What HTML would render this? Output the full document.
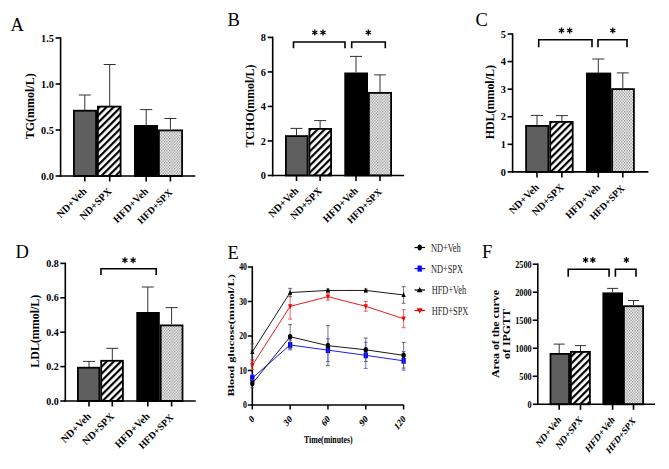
<!DOCTYPE html>
<html><head><meta charset="utf-8"><style>
html,body{margin:0;padding:0;background:#fff;width:669px;height:469px;overflow:hidden}
svg{display:block;font-family:"Liberation Serif", serif}
</style></head><body>
<svg width="669" height="469" viewBox="0 0 669 469">
<defs>
<pattern id="stripe" width="5" height="5" patternUnits="userSpaceOnUse" patternTransform="rotate(45)">
<rect width="5" height="5" fill="#fff"/><rect width="2.2" height="5" fill="#000"/></pattern>
<pattern id="dots" width="2.6" height="3" patternUnits="userSpaceOnUse">
<rect width="2.6" height="3" fill="#f6f6f6"/><rect width="1.15" height="1.4" fill="#8c8c8c"/><rect x="1.3" y="1.5" width="1.15" height="1.4" fill="#8c8c8c"/></pattern>
</defs>
<rect width="669" height="469" fill="#fff"/>
<line x1="60.60" y1="37.25" x2="60.60" y2="176.75" stroke="#000" stroke-width="1.6" stroke-linecap="butt"/>
<line x1="55.60" y1="176.00" x2="60.60" y2="176.00" stroke="#000" stroke-width="1.6" stroke-linecap="butt"/>
<text transform="translate(53.90 179.60)" font-size="10.3" text-anchor="end" font-weight="bold" fill="#000" >0.0</text>
<line x1="55.60" y1="130.00" x2="60.60" y2="130.00" stroke="#000" stroke-width="1.6" stroke-linecap="butt"/>
<text transform="translate(53.90 133.60)" font-size="10.3" text-anchor="end" font-weight="bold" fill="#000" >0.5</text>
<line x1="55.60" y1="84.00" x2="60.60" y2="84.00" stroke="#000" stroke-width="1.6" stroke-linecap="butt"/>
<text transform="translate(53.90 87.60)" font-size="10.3" text-anchor="end" font-weight="bold" fill="#000" >1.0</text>
<line x1="55.60" y1="38.00" x2="60.60" y2="38.00" stroke="#000" stroke-width="1.6" stroke-linecap="butt"/>
<text transform="translate(53.90 41.60)" font-size="10.3" text-anchor="end" font-weight="bold" fill="#000" >1.5</text>
<rect x="73.90" y="110.70" width="22.20" height="65.30" fill="#5f5f5f" stroke="#000" stroke-width="1.8"/>
<rect x="97.90" y="106.60" width="22.70" height="69.40" fill="url(#stripe)" stroke="#000" stroke-width="1.8"/>
<rect x="134.90" y="125.90" width="22.20" height="50.10" fill="#000" stroke="#000" stroke-width="1.8"/>
<rect x="158.90" y="130.40" width="23.20" height="45.60" fill="url(#dots)" stroke="#000" stroke-width="1.8"/>
<line x1="59.80" y1="176.00" x2="195.40" y2="176.00" stroke="#000" stroke-width="1.6" stroke-linecap="butt"/>
<line x1="84.80" y1="110.00" x2="84.80" y2="95.00" stroke="#333" stroke-width="1.0" stroke-linecap="butt"/>
<line x1="78.80" y1="95.00" x2="90.80" y2="95.00" stroke="#333" stroke-width="1.0" stroke-linecap="butt"/>
<line x1="109.70" y1="106.00" x2="109.70" y2="64.50" stroke="#333" stroke-width="1.0" stroke-linecap="butt"/>
<line x1="103.70" y1="64.50" x2="115.70" y2="64.50" stroke="#333" stroke-width="1.0" stroke-linecap="butt"/>
<line x1="146.20" y1="125.00" x2="146.20" y2="109.60" stroke="#333" stroke-width="1.0" stroke-linecap="butt"/>
<line x1="140.20" y1="109.60" x2="152.20" y2="109.60" stroke="#333" stroke-width="1.0" stroke-linecap="butt"/>
<line x1="170.40" y1="129.50" x2="170.40" y2="118.50" stroke="#333" stroke-width="1.0" stroke-linecap="butt"/>
<line x1="164.40" y1="118.50" x2="176.40" y2="118.50" stroke="#333" stroke-width="1.0" stroke-linecap="butt"/>
<line x1="84.80" y1="176.00" x2="84.80" y2="181.50" stroke="#000" stroke-width="1.6" stroke-linecap="butt"/>
<line x1="109.70" y1="176.00" x2="109.70" y2="181.50" stroke="#000" stroke-width="1.6" stroke-linecap="butt"/>
<line x1="146.20" y1="176.00" x2="146.20" y2="181.50" stroke="#000" stroke-width="1.6" stroke-linecap="butt"/>
<line x1="170.40" y1="176.00" x2="170.40" y2="181.50" stroke="#000" stroke-width="1.6" stroke-linecap="butt"/>
<text transform="translate(87.30 192.00) rotate(-45)" font-size="10.3" text-anchor="end" font-weight="bold" fill="#000" >ND+Veh</text>
<text transform="translate(112.20 192.00) rotate(-45)" font-size="10.3" text-anchor="end" font-weight="bold" fill="#000" >ND+SPX</text>
<text transform="translate(148.70 192.00) rotate(-45)" font-size="10.3" text-anchor="end" font-weight="bold" fill="#000" >HFD+Veh</text>
<text transform="translate(172.90 193.00) rotate(-45)" font-size="9.79" text-anchor="end" font-weight="bold" fill="#000" >HFD+SPX</text>
<text transform="translate(34.10 106.30) rotate(-90)" font-size="12.0" text-anchor="middle" font-weight="bold" fill="#000" >TG(mmol/L)</text>
<text transform="translate(10.50 31.30)" font-size="18.5" text-anchor="start" font-weight="normal" fill="#000" >A</text>
<line x1="272.70" y1="36.65" x2="272.70" y2="176.25" stroke="#000" stroke-width="1.6" stroke-linecap="butt"/>
<line x1="267.70" y1="175.50" x2="272.70" y2="175.50" stroke="#000" stroke-width="1.6" stroke-linecap="butt"/>
<text transform="translate(266.00 179.10)" font-size="10.3" text-anchor="end" font-weight="bold" fill="#000" >0</text>
<line x1="267.70" y1="140.97" x2="272.70" y2="140.97" stroke="#000" stroke-width="1.6" stroke-linecap="butt"/>
<text transform="translate(266.00 144.57)" font-size="10.3" text-anchor="end" font-weight="bold" fill="#000" >2</text>
<line x1="267.70" y1="106.45" x2="272.70" y2="106.45" stroke="#000" stroke-width="1.6" stroke-linecap="butt"/>
<text transform="translate(266.00 110.05)" font-size="10.3" text-anchor="end" font-weight="bold" fill="#000" >4</text>
<line x1="267.70" y1="71.93" x2="272.70" y2="71.93" stroke="#000" stroke-width="1.6" stroke-linecap="butt"/>
<text transform="translate(266.00 75.53)" font-size="10.3" text-anchor="end" font-weight="bold" fill="#000" >6</text>
<line x1="267.70" y1="37.40" x2="272.70" y2="37.40" stroke="#000" stroke-width="1.6" stroke-linecap="butt"/>
<text transform="translate(266.00 41.00)" font-size="10.3" text-anchor="end" font-weight="bold" fill="#000" >8</text>
<rect x="285.90" y="136.10" width="21.70" height="39.40" fill="#5f5f5f" stroke="#000" stroke-width="1.8"/>
<rect x="309.40" y="128.90" width="21.70" height="46.60" fill="url(#stripe)" stroke="#000" stroke-width="1.8"/>
<rect x="345.20" y="73.40" width="21.90" height="102.10" fill="#000" stroke="#000" stroke-width="1.8"/>
<rect x="368.90" y="92.90" width="22.20" height="82.60" fill="url(#dots)" stroke="#000" stroke-width="1.8"/>
<line x1="271.90" y1="175.50" x2="404.20" y2="175.50" stroke="#000" stroke-width="1.6" stroke-linecap="butt"/>
<line x1="296.50" y1="135.00" x2="296.50" y2="128.40" stroke="#333" stroke-width="1.0" stroke-linecap="butt"/>
<line x1="290.50" y1="128.40" x2="302.50" y2="128.40" stroke="#333" stroke-width="1.0" stroke-linecap="butt"/>
<line x1="320.10" y1="128.00" x2="320.10" y2="120.60" stroke="#333" stroke-width="1.0" stroke-linecap="butt"/>
<line x1="314.10" y1="120.60" x2="326.10" y2="120.60" stroke="#333" stroke-width="1.0" stroke-linecap="butt"/>
<line x1="356.00" y1="72.50" x2="356.00" y2="56.40" stroke="#333" stroke-width="1.0" stroke-linecap="butt"/>
<line x1="350.00" y1="56.40" x2="362.00" y2="56.40" stroke="#333" stroke-width="1.0" stroke-linecap="butt"/>
<line x1="380.00" y1="92.00" x2="380.00" y2="74.90" stroke="#333" stroke-width="1.0" stroke-linecap="butt"/>
<line x1="374.00" y1="74.90" x2="386.00" y2="74.90" stroke="#333" stroke-width="1.0" stroke-linecap="butt"/>
<line x1="296.50" y1="175.50" x2="296.50" y2="181.00" stroke="#000" stroke-width="1.6" stroke-linecap="butt"/>
<line x1="320.10" y1="175.50" x2="320.10" y2="181.00" stroke="#000" stroke-width="1.6" stroke-linecap="butt"/>
<line x1="356.00" y1="175.50" x2="356.00" y2="181.00" stroke="#000" stroke-width="1.6" stroke-linecap="butt"/>
<line x1="380.00" y1="175.50" x2="380.00" y2="181.00" stroke="#000" stroke-width="1.6" stroke-linecap="butt"/>
<text transform="translate(299.00 191.50) rotate(-45)" font-size="10.3" text-anchor="end" font-weight="bold" fill="#000" >ND+Veh</text>
<text transform="translate(322.60 191.50) rotate(-45)" font-size="10.3" text-anchor="end" font-weight="bold" fill="#000" >ND+SPX</text>
<text transform="translate(358.50 191.50) rotate(-45)" font-size="10.3" text-anchor="end" font-weight="bold" fill="#000" >HFD+Veh</text>
<text transform="translate(382.50 192.50) rotate(-45)" font-size="9.79" text-anchor="end" font-weight="bold" fill="#000" >HFD+SPX</text>
<text transform="translate(254.30 106.00) rotate(-90)" font-size="11.85" text-anchor="middle" font-weight="bold" fill="#000" >TCHO(mmol/L)</text>
<text transform="translate(227.50 25.60)" font-size="18.5" text-anchor="start" font-weight="normal" fill="#000" >B</text>
<path d="M293.50 48.20 V42.00 H345.00 V48.20" fill="none" stroke="#000" stroke-width="1.6"/>
<rect x="314.15" y="29.50" width="1.3" height="6.0" fill="#000" transform="rotate(0 314.80 32.50)"/>
<rect x="314.15" y="29.50" width="1.3" height="6.0" fill="#000" transform="rotate(60 314.80 32.50)"/>
<rect x="314.15" y="29.50" width="1.3" height="6.0" fill="#000" transform="rotate(120 314.80 32.50)"/>
<rect x="322.35" y="29.50" width="1.3" height="6.0" fill="#000" transform="rotate(0 323.00 32.50)"/>
<rect x="322.35" y="29.50" width="1.3" height="6.0" fill="#000" transform="rotate(60 323.00 32.50)"/>
<rect x="322.35" y="29.50" width="1.3" height="6.0" fill="#000" transform="rotate(120 323.00 32.50)"/>
<path d="M351.70 48.20 V42.00 H385.30 V48.20" fill="none" stroke="#000" stroke-width="1.6"/>
<rect x="367.65" y="29.50" width="1.3" height="6.0" fill="#000" transform="rotate(0 368.30 32.50)"/>
<rect x="367.65" y="29.50" width="1.3" height="6.0" fill="#000" transform="rotate(60 368.30 32.50)"/>
<rect x="367.65" y="29.50" width="1.3" height="6.0" fill="#000" transform="rotate(120 368.30 32.50)"/>
<line x1="512.60" y1="33.25" x2="512.60" y2="172.65" stroke="#000" stroke-width="1.6" stroke-linecap="butt"/>
<line x1="507.60" y1="171.90" x2="512.60" y2="171.90" stroke="#000" stroke-width="1.6" stroke-linecap="butt"/>
<text transform="translate(505.90 175.50)" font-size="10.3" text-anchor="end" font-weight="bold" fill="#000" >0</text>
<line x1="507.60" y1="144.32" x2="512.60" y2="144.32" stroke="#000" stroke-width="1.6" stroke-linecap="butt"/>
<text transform="translate(505.90 147.92)" font-size="10.3" text-anchor="end" font-weight="bold" fill="#000" >1</text>
<line x1="507.60" y1="116.74" x2="512.60" y2="116.74" stroke="#000" stroke-width="1.6" stroke-linecap="butt"/>
<text transform="translate(505.90 120.34)" font-size="10.3" text-anchor="end" font-weight="bold" fill="#000" >2</text>
<line x1="507.60" y1="89.16" x2="512.60" y2="89.16" stroke="#000" stroke-width="1.6" stroke-linecap="butt"/>
<text transform="translate(505.90 92.76)" font-size="10.3" text-anchor="end" font-weight="bold" fill="#000" >3</text>
<line x1="507.60" y1="61.58" x2="512.60" y2="61.58" stroke="#000" stroke-width="1.6" stroke-linecap="butt"/>
<text transform="translate(505.90 65.18)" font-size="10.3" text-anchor="end" font-weight="bold" fill="#000" >4</text>
<line x1="507.60" y1="34.00" x2="512.60" y2="34.00" stroke="#000" stroke-width="1.6" stroke-linecap="butt"/>
<text transform="translate(505.90 37.60)" font-size="10.3" text-anchor="end" font-weight="bold" fill="#000" >5</text>
<rect x="526.10" y="125.90" width="22.30" height="46.00" fill="#5f5f5f" stroke="#000" stroke-width="1.8"/>
<rect x="550.20" y="121.90" width="22.50" height="50.00" fill="url(#stripe)" stroke="#000" stroke-width="1.8"/>
<rect x="586.90" y="73.50" width="23.40" height="98.40" fill="#000" stroke="#000" stroke-width="1.8"/>
<rect x="612.10" y="89.10" width="21.80" height="82.80" fill="url(#dots)" stroke="#000" stroke-width="1.8"/>
<line x1="511.80" y1="171.90" x2="648.40" y2="171.90" stroke="#000" stroke-width="1.6" stroke-linecap="butt"/>
<line x1="537.00" y1="125.00" x2="537.00" y2="115.40" stroke="#333" stroke-width="1.0" stroke-linecap="butt"/>
<line x1="531.00" y1="115.40" x2="543.00" y2="115.40" stroke="#333" stroke-width="1.0" stroke-linecap="butt"/>
<line x1="561.90" y1="121.00" x2="561.90" y2="115.60" stroke="#333" stroke-width="1.0" stroke-linecap="butt"/>
<line x1="555.90" y1="115.60" x2="567.90" y2="115.60" stroke="#333" stroke-width="1.0" stroke-linecap="butt"/>
<line x1="598.30" y1="73.00" x2="598.30" y2="59.00" stroke="#333" stroke-width="1.0" stroke-linecap="butt"/>
<line x1="592.30" y1="59.00" x2="604.30" y2="59.00" stroke="#333" stroke-width="1.0" stroke-linecap="butt"/>
<line x1="622.80" y1="88.00" x2="622.80" y2="72.90" stroke="#333" stroke-width="1.0" stroke-linecap="butt"/>
<line x1="616.80" y1="72.90" x2="628.80" y2="72.90" stroke="#333" stroke-width="1.0" stroke-linecap="butt"/>
<line x1="537.00" y1="171.90" x2="537.00" y2="177.40" stroke="#000" stroke-width="1.6" stroke-linecap="butt"/>
<line x1="561.90" y1="171.90" x2="561.90" y2="177.40" stroke="#000" stroke-width="1.6" stroke-linecap="butt"/>
<line x1="598.30" y1="171.90" x2="598.30" y2="177.40" stroke="#000" stroke-width="1.6" stroke-linecap="butt"/>
<line x1="622.80" y1="171.90" x2="622.80" y2="177.40" stroke="#000" stroke-width="1.6" stroke-linecap="butt"/>
<text transform="translate(539.50 187.90) rotate(-45)" font-size="10.3" text-anchor="end" font-weight="bold" fill="#000" >ND+Veh</text>
<text transform="translate(564.40 187.90) rotate(-45)" font-size="10.3" text-anchor="end" font-weight="bold" fill="#000" >ND+SPX</text>
<text transform="translate(600.80 187.90) rotate(-45)" font-size="10.3" text-anchor="end" font-weight="bold" fill="#000" >HFD+Veh</text>
<text transform="translate(625.30 188.90) rotate(-45)" font-size="9.79" text-anchor="end" font-weight="bold" fill="#000" >HFD+SPX</text>
<text transform="translate(493.70 102.20) rotate(-90)" font-size="11.95" text-anchor="middle" font-weight="bold" fill="#000" >HDL(mmol/L)</text>
<text transform="translate(475.50 25.60)" font-size="18.5" text-anchor="start" font-weight="normal" fill="#000" >C</text>
<path d="M538.70 47.20 V39.80 H592.00 V47.20" fill="none" stroke="#000" stroke-width="1.6"/>
<rect x="560.85" y="27.50" width="1.3" height="6.0" fill="#000" transform="rotate(0 561.50 30.50)"/>
<rect x="560.85" y="27.50" width="1.3" height="6.0" fill="#000" transform="rotate(60 561.50 30.50)"/>
<rect x="560.85" y="27.50" width="1.3" height="6.0" fill="#000" transform="rotate(120 561.50 30.50)"/>
<rect x="569.05" y="27.50" width="1.3" height="6.0" fill="#000" transform="rotate(0 569.70 30.50)"/>
<rect x="569.05" y="27.50" width="1.3" height="6.0" fill="#000" transform="rotate(60 569.70 30.50)"/>
<rect x="569.05" y="27.50" width="1.3" height="6.0" fill="#000" transform="rotate(120 569.70 30.50)"/>
<path d="M598.00 47.20 V39.80 H627.00 V47.20" fill="none" stroke="#000" stroke-width="1.6"/>
<rect x="612.15" y="27.50" width="1.3" height="6.0" fill="#000" transform="rotate(0 612.80 30.50)"/>
<rect x="612.15" y="27.50" width="1.3" height="6.0" fill="#000" transform="rotate(60 612.80 30.50)"/>
<rect x="612.15" y="27.50" width="1.3" height="6.0" fill="#000" transform="rotate(120 612.80 30.50)"/>
<line x1="65.30" y1="262.65" x2="65.30" y2="401.75" stroke="#000" stroke-width="1.6" stroke-linecap="butt"/>
<line x1="60.30" y1="401.00" x2="65.30" y2="401.00" stroke="#000" stroke-width="1.6" stroke-linecap="butt"/>
<text transform="translate(58.80 404.60)" font-size="10" text-anchor="end" font-weight="bold" fill="#000" >0.0</text>
<line x1="60.30" y1="366.60" x2="65.30" y2="366.60" stroke="#000" stroke-width="1.6" stroke-linecap="butt"/>
<text transform="translate(58.80 370.20)" font-size="10" text-anchor="end" font-weight="bold" fill="#000" >0.2</text>
<line x1="60.30" y1="332.20" x2="65.30" y2="332.20" stroke="#000" stroke-width="1.6" stroke-linecap="butt"/>
<text transform="translate(58.80 335.80)" font-size="10" text-anchor="end" font-weight="bold" fill="#000" >0.4</text>
<line x1="60.30" y1="297.80" x2="65.30" y2="297.80" stroke="#000" stroke-width="1.6" stroke-linecap="butt"/>
<text transform="translate(58.80 301.40)" font-size="10" text-anchor="end" font-weight="bold" fill="#000" >0.6</text>
<line x1="60.30" y1="263.40" x2="65.30" y2="263.40" stroke="#000" stroke-width="1.6" stroke-linecap="butt"/>
<text transform="translate(58.80 267.00)" font-size="10" text-anchor="end" font-weight="bold" fill="#000" >0.8</text>
<rect x="77.90" y="367.70" width="21.50" height="33.30" fill="#5f5f5f" stroke="#000" stroke-width="1.8"/>
<rect x="101.20" y="360.80" width="21.70" height="40.20" fill="url(#stripe)" stroke="#000" stroke-width="1.8"/>
<rect x="137.20" y="312.90" width="21.70" height="88.10" fill="#000" stroke="#000" stroke-width="1.8"/>
<rect x="160.70" y="325.40" width="21.80" height="75.60" fill="url(#dots)" stroke="#000" stroke-width="1.8"/>
<line x1="64.50" y1="401.00" x2="195.70" y2="401.00" stroke="#000" stroke-width="1.6" stroke-linecap="butt"/>
<line x1="89.00" y1="367.00" x2="89.00" y2="361.40" stroke="#333" stroke-width="1.0" stroke-linecap="butt"/>
<line x1="83.00" y1="361.40" x2="95.00" y2="361.40" stroke="#333" stroke-width="1.0" stroke-linecap="butt"/>
<line x1="112.30" y1="360.00" x2="112.30" y2="348.30" stroke="#333" stroke-width="1.0" stroke-linecap="butt"/>
<line x1="106.30" y1="348.30" x2="118.30" y2="348.30" stroke="#333" stroke-width="1.0" stroke-linecap="butt"/>
<line x1="147.80" y1="312.00" x2="147.80" y2="287.00" stroke="#333" stroke-width="1.0" stroke-linecap="butt"/>
<line x1="141.80" y1="287.00" x2="153.80" y2="287.00" stroke="#333" stroke-width="1.0" stroke-linecap="butt"/>
<line x1="171.60" y1="324.00" x2="171.60" y2="307.60" stroke="#333" stroke-width="1.0" stroke-linecap="butt"/>
<line x1="165.60" y1="307.60" x2="177.60" y2="307.60" stroke="#333" stroke-width="1.0" stroke-linecap="butt"/>
<line x1="89.00" y1="401.00" x2="89.00" y2="406.50" stroke="#000" stroke-width="1.6" stroke-linecap="butt"/>
<line x1="112.30" y1="401.00" x2="112.30" y2="406.50" stroke="#000" stroke-width="1.6" stroke-linecap="butt"/>
<line x1="147.80" y1="401.00" x2="147.80" y2="406.50" stroke="#000" stroke-width="1.6" stroke-linecap="butt"/>
<line x1="171.60" y1="401.00" x2="171.60" y2="406.50" stroke="#000" stroke-width="1.6" stroke-linecap="butt"/>
<text transform="translate(91.50 417.00) rotate(-45)" font-size="10.3" text-anchor="end" font-weight="bold" fill="#000" >ND+Veh</text>
<text transform="translate(114.80 417.00) rotate(-45)" font-size="10.3" text-anchor="end" font-weight="bold" fill="#000" >ND+SPX</text>
<text transform="translate(150.30 417.00) rotate(-45)" font-size="10.3" text-anchor="end" font-weight="bold" fill="#000" >HFD+Veh</text>
<text transform="translate(174.10 418.00) rotate(-45)" font-size="9.79" text-anchor="end" font-weight="bold" fill="#000" >HFD+SPX</text>
<text transform="translate(39.40 331.20) rotate(-90)" font-size="11.95" text-anchor="middle" font-weight="bold" fill="#000" >LDL(mmol/L)</text>
<text transform="translate(15.50 258.10)" font-size="18.5" text-anchor="start" font-weight="normal" fill="#000" >D</text>
<path d="M101.00 275.10 V268.80 H156.20 V275.10" fill="none" stroke="#000" stroke-width="1.6"/>
<rect x="124.25" y="257.20" width="1.3" height="6.0" fill="#000" transform="rotate(0 124.90 260.20)"/>
<rect x="124.25" y="257.20" width="1.3" height="6.0" fill="#000" transform="rotate(60 124.90 260.20)"/>
<rect x="124.25" y="257.20" width="1.3" height="6.0" fill="#000" transform="rotate(120 124.90 260.20)"/>
<rect x="132.45" y="257.20" width="1.3" height="6.0" fill="#000" transform="rotate(0 133.10 260.20)"/>
<rect x="132.45" y="257.20" width="1.3" height="6.0" fill="#000" transform="rotate(60 133.10 260.20)"/>
<rect x="132.45" y="257.20" width="1.3" height="6.0" fill="#000" transform="rotate(120 133.10 260.20)"/>
<line x1="537.80" y1="263.45" x2="537.80" y2="405.05" stroke="#000" stroke-width="1.6" stroke-linecap="butt"/>
<line x1="532.80" y1="404.30" x2="537.80" y2="404.30" stroke="#000" stroke-width="1.6" stroke-linecap="butt"/>
<text transform="translate(531.70 407.90) scale(0.8 1)" font-size="10.3" text-anchor="end" font-weight="bold" fill="#000" >0</text>
<line x1="532.80" y1="376.28" x2="537.80" y2="376.28" stroke="#000" stroke-width="1.6" stroke-linecap="butt"/>
<text transform="translate(531.70 379.88) scale(0.8 1)" font-size="10.3" text-anchor="end" font-weight="bold" fill="#000" >500</text>
<line x1="532.80" y1="348.26" x2="537.80" y2="348.26" stroke="#000" stroke-width="1.6" stroke-linecap="butt"/>
<text transform="translate(531.70 351.86) scale(0.8 1)" font-size="10.3" text-anchor="end" font-weight="bold" fill="#000" >1000</text>
<line x1="532.80" y1="320.24" x2="537.80" y2="320.24" stroke="#000" stroke-width="1.6" stroke-linecap="butt"/>
<text transform="translate(531.70 323.84) scale(0.8 1)" font-size="10.3" text-anchor="end" font-weight="bold" fill="#000" >1500</text>
<line x1="532.80" y1="292.22" x2="537.80" y2="292.22" stroke="#000" stroke-width="1.6" stroke-linecap="butt"/>
<text transform="translate(531.70 295.82) scale(0.8 1)" font-size="10.3" text-anchor="end" font-weight="bold" fill="#000" >2000</text>
<line x1="532.80" y1="264.20" x2="537.80" y2="264.20" stroke="#000" stroke-width="1.6" stroke-linecap="butt"/>
<text transform="translate(531.70 267.80) scale(0.8 1)" font-size="10.3" text-anchor="end" font-weight="bold" fill="#000" >2500</text>
<rect x="550.50" y="353.90" width="18.60" height="50.40" fill="#5f5f5f" stroke="#000" stroke-width="1.8"/>
<rect x="570.90" y="351.90" width="19.00" height="52.40" fill="url(#stripe)" stroke="#000" stroke-width="1.8"/>
<rect x="603.30" y="293.30" width="18.80" height="111.00" fill="#000" stroke="#000" stroke-width="1.8"/>
<rect x="623.90" y="306.20" width="19.20" height="98.10" fill="url(#dots)" stroke="#000" stroke-width="1.8"/>
<line x1="537.00" y1="404.30" x2="655.00" y2="404.30" stroke="#000" stroke-width="1.6" stroke-linecap="butt"/>
<line x1="559.20" y1="353.00" x2="559.20" y2="344.10" stroke="#333" stroke-width="1.0" stroke-linecap="butt"/>
<line x1="553.70" y1="344.10" x2="564.70" y2="344.10" stroke="#333" stroke-width="1.0" stroke-linecap="butt"/>
<line x1="580.50" y1="351.00" x2="580.50" y2="345.60" stroke="#333" stroke-width="1.0" stroke-linecap="butt"/>
<line x1="575.00" y1="345.60" x2="586.00" y2="345.60" stroke="#333" stroke-width="1.0" stroke-linecap="butt"/>
<line x1="612.60" y1="292.40" x2="612.60" y2="288.40" stroke="#333" stroke-width="1.0" stroke-linecap="butt"/>
<line x1="607.10" y1="288.40" x2="618.10" y2="288.40" stroke="#333" stroke-width="1.0" stroke-linecap="butt"/>
<line x1="633.50" y1="305.30" x2="633.50" y2="300.50" stroke="#333" stroke-width="1.0" stroke-linecap="butt"/>
<line x1="628.00" y1="300.50" x2="639.00" y2="300.50" stroke="#333" stroke-width="1.0" stroke-linecap="butt"/>
<line x1="559.20" y1="404.30" x2="559.20" y2="409.80" stroke="#000" stroke-width="1.6" stroke-linecap="butt"/>
<line x1="580.50" y1="404.30" x2="580.50" y2="409.80" stroke="#000" stroke-width="1.6" stroke-linecap="butt"/>
<line x1="612.60" y1="404.30" x2="612.60" y2="409.80" stroke="#000" stroke-width="1.6" stroke-linecap="butt"/>
<line x1="633.50" y1="404.30" x2="633.50" y2="409.80" stroke="#000" stroke-width="1.6" stroke-linecap="butt"/>
<text transform="translate(561.70 420.30) scale(0.8 1) rotate(-45)" font-size="10.8" text-anchor="end" font-weight="bold" fill="#000" >ND+Veh</text>
<text transform="translate(583.00 420.30) scale(0.8 1) rotate(-45)" font-size="10.8" text-anchor="end" font-weight="bold" fill="#000" >ND+SPX</text>
<text transform="translate(615.10 420.30) scale(0.8 1) rotate(-45)" font-size="10.8" text-anchor="end" font-weight="bold" fill="#000" >HFD+Veh</text>
<text transform="translate(636.00 421.30) scale(0.8 1) rotate(-45)" font-size="10.26" text-anchor="end" font-weight="bold" fill="#000" >HFD+SPX</text>
<text transform="translate(498.60 334.00) scale(0.8 1) rotate(-90)" font-size="11.9" text-anchor="middle" font-weight="bold" fill="#000" >Area of the curve</text>
<text transform="translate(510.00 334.00) scale(0.8 1) rotate(-90)" font-size="11.9" text-anchor="middle" font-weight="bold" fill="#000" >of IPGTT</text>
<text transform="translate(482.00 258.00)" font-size="18.5" text-anchor="start" font-weight="normal" fill="#000" >F</text>
<path d="M568.20 276.80 V269.20 H609.10 V276.80" fill="none" stroke="#000" stroke-width="1.6"/>
<rect x="584.90" y="257.00" width="1.3" height="6.0" fill="#000" transform="rotate(0 585.55 260.00)"/>
<rect x="584.90" y="257.00" width="1.3" height="6.0" fill="#000" transform="rotate(60 585.55 260.00)"/>
<rect x="584.90" y="257.00" width="1.3" height="6.0" fill="#000" transform="rotate(120 585.55 260.00)"/>
<rect x="592.20" y="257.00" width="1.3" height="6.0" fill="#000" transform="rotate(0 592.85 260.00)"/>
<rect x="592.20" y="257.00" width="1.3" height="6.0" fill="#000" transform="rotate(60 592.85 260.00)"/>
<rect x="592.20" y="257.00" width="1.3" height="6.0" fill="#000" transform="rotate(120 592.85 260.00)"/>
<path d="M615.40 276.80 V269.20 H636.00 V276.80" fill="none" stroke="#000" stroke-width="1.6"/>
<rect x="625.75" y="257.00" width="1.3" height="6.0" fill="#000" transform="rotate(0 626.40 260.00)"/>
<rect x="625.75" y="257.00" width="1.3" height="6.0" fill="#000" transform="rotate(60 626.40 260.00)"/>
<rect x="625.75" y="257.00" width="1.3" height="6.0" fill="#000" transform="rotate(120 626.40 260.00)"/>
<line x1="252.30" y1="266.30" x2="252.30" y2="405.70" stroke="#000" stroke-width="1.6" stroke-linecap="butt"/>
<line x1="251.50" y1="405.00" x2="403.90" y2="405.00" stroke="#000" stroke-width="1.6" stroke-linecap="butt"/>
<line x1="247.80" y1="405.00" x2="252.30" y2="405.00" stroke="#000" stroke-width="1.5" stroke-linecap="butt"/>
<text transform="translate(247.00 408.40) scale(0.78 1)" font-size="10" text-anchor="end" font-weight="bold" fill="#000" >0</text>
<line x1="247.80" y1="370.50" x2="252.30" y2="370.50" stroke="#000" stroke-width="1.5" stroke-linecap="butt"/>
<text transform="translate(247.00 373.90) scale(0.78 1)" font-size="10" text-anchor="end" font-weight="bold" fill="#000" >10</text>
<line x1="247.80" y1="336.00" x2="252.30" y2="336.00" stroke="#000" stroke-width="1.5" stroke-linecap="butt"/>
<text transform="translate(247.00 339.40) scale(0.78 1)" font-size="10" text-anchor="end" font-weight="bold" fill="#000" >20</text>
<line x1="247.80" y1="301.50" x2="252.30" y2="301.50" stroke="#000" stroke-width="1.5" stroke-linecap="butt"/>
<text transform="translate(247.00 304.90) scale(0.78 1)" font-size="10" text-anchor="end" font-weight="bold" fill="#000" >30</text>
<line x1="247.80" y1="267.00" x2="252.30" y2="267.00" stroke="#000" stroke-width="1.5" stroke-linecap="butt"/>
<text transform="translate(247.00 270.40) scale(0.78 1)" font-size="10" text-anchor="end" font-weight="bold" fill="#000" >40</text>
<line x1="252.30" y1="405.00" x2="252.30" y2="409.50" stroke="#000" stroke-width="1.5" stroke-linecap="butt"/>
<text transform="translate(254.80 419.50) scale(0.78 1) rotate(-45)" font-size="10.5" text-anchor="end" font-weight="bold" fill="#000" >0</text>
<line x1="290.12" y1="405.00" x2="290.12" y2="409.50" stroke="#000" stroke-width="1.5" stroke-linecap="butt"/>
<text transform="translate(292.62 419.50) scale(0.78 1) rotate(-45)" font-size="10.5" text-anchor="end" font-weight="bold" fill="#000" >30</text>
<line x1="327.95" y1="405.00" x2="327.95" y2="409.50" stroke="#000" stroke-width="1.5" stroke-linecap="butt"/>
<text transform="translate(330.45 419.50) scale(0.78 1) rotate(-45)" font-size="10.5" text-anchor="end" font-weight="bold" fill="#000" >60</text>
<line x1="365.78" y1="405.00" x2="365.78" y2="409.50" stroke="#000" stroke-width="1.5" stroke-linecap="butt"/>
<text transform="translate(368.28 419.50) scale(0.78 1) rotate(-45)" font-size="10.5" text-anchor="end" font-weight="bold" fill="#000" >90</text>
<line x1="403.60" y1="405.00" x2="403.60" y2="409.50" stroke="#000" stroke-width="1.5" stroke-linecap="butt"/>
<text transform="translate(406.10 419.50) scale(0.78 1) rotate(-45)" font-size="10.5" text-anchor="end" font-weight="bold" fill="#000" >120</text>
<text transform="translate(328.30 443.00) scale(0.78 1)" font-size="10" text-anchor="middle" font-weight="bold" fill="#000" >Time(minutes)</text>
<text transform="translate(233.70 335.40) scale(0.72 1) rotate(-90)" font-size="12.35" text-anchor="middle" font-weight="bold" fill="#000" >Blood glucose(mmol/L)</text>
<text transform="translate(227.50 258.50)" font-size="18.5" text-anchor="start" font-weight="normal" fill="#000" >E</text>
<path d="M252.30 378.09 L290.12 344.97 L327.95 350.14 L365.78 355.32 L403.60 360.84" fill="none" stroke="#0000ff" stroke-width="0.9"/>
<line x1="252.30" y1="374.64" x2="252.30" y2="381.54" stroke="#5555ff" stroke-width="0.8" stroke-linecap="butt"/>
<line x1="250.40" y1="374.64" x2="254.20" y2="374.64" stroke="#5555ff" stroke-width="0.9" stroke-linecap="butt"/>
<line x1="250.40" y1="381.54" x2="254.20" y2="381.54" stroke="#5555ff" stroke-width="0.9" stroke-linecap="butt"/>
<line x1="290.12" y1="340.14" x2="290.12" y2="349.80" stroke="#5555ff" stroke-width="0.8" stroke-linecap="butt"/>
<line x1="288.23" y1="340.14" x2="292.02" y2="340.14" stroke="#5555ff" stroke-width="0.9" stroke-linecap="butt"/>
<line x1="288.23" y1="349.80" x2="292.02" y2="349.80" stroke="#5555ff" stroke-width="0.9" stroke-linecap="butt"/>
<line x1="327.95" y1="338.76" x2="327.95" y2="361.53" stroke="#5555ff" stroke-width="0.8" stroke-linecap="butt"/>
<line x1="326.05" y1="338.76" x2="329.85" y2="338.76" stroke="#5555ff" stroke-width="0.9" stroke-linecap="butt"/>
<line x1="326.05" y1="361.53" x2="329.85" y2="361.53" stroke="#5555ff" stroke-width="0.9" stroke-linecap="butt"/>
<line x1="365.78" y1="342.21" x2="365.78" y2="368.43" stroke="#5555ff" stroke-width="0.8" stroke-linecap="butt"/>
<line x1="363.88" y1="342.21" x2="367.68" y2="342.21" stroke="#5555ff" stroke-width="0.9" stroke-linecap="butt"/>
<line x1="363.88" y1="368.43" x2="367.68" y2="368.43" stroke="#5555ff" stroke-width="0.9" stroke-linecap="butt"/>
<line x1="403.60" y1="351.52" x2="403.60" y2="370.15" stroke="#5555ff" stroke-width="0.8" stroke-linecap="butt"/>
<line x1="401.70" y1="351.52" x2="405.50" y2="351.52" stroke="#5555ff" stroke-width="0.9" stroke-linecap="butt"/>
<line x1="401.70" y1="370.15" x2="405.50" y2="370.15" stroke="#5555ff" stroke-width="0.9" stroke-linecap="butt"/>
<rect x="250.15" y="375.19" width="4.30" height="5.80" fill="#0000ff"/>
<rect x="287.98" y="342.07" width="4.30" height="5.80" fill="#0000ff"/>
<rect x="325.80" y="347.25" width="4.30" height="5.80" fill="#0000ff"/>
<rect x="363.63" y="352.42" width="4.30" height="5.80" fill="#0000ff"/>
<rect x="401.45" y="357.94" width="4.30" height="5.80" fill="#0000ff"/>
<path d="M252.30 383.61 L290.12 336.69 L327.95 345.66 L365.78 349.80 L403.60 355.32" fill="none" stroke="#000" stroke-width="0.9"/>
<line x1="252.30" y1="379.47" x2="252.30" y2="387.75" stroke="#555" stroke-width="0.8" stroke-linecap="butt"/>
<line x1="250.40" y1="379.47" x2="254.20" y2="379.47" stroke="#555" stroke-width="0.9" stroke-linecap="butt"/>
<line x1="250.40" y1="387.75" x2="254.20" y2="387.75" stroke="#555" stroke-width="0.9" stroke-linecap="butt"/>
<line x1="290.12" y1="324.62" x2="290.12" y2="348.76" stroke="#555" stroke-width="0.8" stroke-linecap="butt"/>
<line x1="288.23" y1="324.62" x2="292.02" y2="324.62" stroke="#555" stroke-width="0.9" stroke-linecap="butt"/>
<line x1="288.23" y1="348.76" x2="292.02" y2="348.76" stroke="#555" stroke-width="0.9" stroke-linecap="butt"/>
<line x1="327.95" y1="325.65" x2="327.95" y2="365.67" stroke="#555" stroke-width="0.8" stroke-linecap="butt"/>
<line x1="326.05" y1="325.65" x2="329.85" y2="325.65" stroke="#555" stroke-width="0.9" stroke-linecap="butt"/>
<line x1="326.05" y1="365.67" x2="329.85" y2="365.67" stroke="#555" stroke-width="0.9" stroke-linecap="butt"/>
<line x1="365.78" y1="338.07" x2="365.78" y2="361.53" stroke="#555" stroke-width="0.8" stroke-linecap="butt"/>
<line x1="363.88" y1="338.07" x2="367.68" y2="338.07" stroke="#555" stroke-width="0.9" stroke-linecap="butt"/>
<line x1="363.88" y1="361.53" x2="367.68" y2="361.53" stroke="#555" stroke-width="0.9" stroke-linecap="butt"/>
<line x1="403.60" y1="342.56" x2="403.60" y2="368.08" stroke="#555" stroke-width="0.8" stroke-linecap="butt"/>
<line x1="401.70" y1="342.56" x2="405.50" y2="342.56" stroke="#555" stroke-width="0.9" stroke-linecap="butt"/>
<line x1="401.70" y1="368.08" x2="405.50" y2="368.08" stroke="#555" stroke-width="0.9" stroke-linecap="butt"/>
<ellipse cx="252.30" cy="383.61" rx="2.20" ry="2.80" fill="#000"/>
<ellipse cx="290.12" cy="336.69" rx="2.20" ry="2.80" fill="#000"/>
<ellipse cx="327.95" cy="345.66" rx="2.20" ry="2.80" fill="#000"/>
<ellipse cx="365.78" cy="349.80" rx="2.20" ry="2.80" fill="#000"/>
<ellipse cx="403.60" cy="355.32" rx="2.20" ry="2.80" fill="#000"/>
<path d="M252.30 365.32 L290.12 306.33 L327.95 296.67 L365.78 306.33 L403.60 318.75" fill="none" stroke="#f00000" stroke-width="0.9"/>
<line x1="252.30" y1="361.19" x2="252.30" y2="369.46" stroke="#f04040" stroke-width="0.8" stroke-linecap="butt"/>
<line x1="250.40" y1="361.19" x2="254.20" y2="361.19" stroke="#f04040" stroke-width="0.9" stroke-linecap="butt"/>
<line x1="250.40" y1="369.46" x2="254.20" y2="369.46" stroke="#f04040" stroke-width="0.9" stroke-linecap="butt"/>
<line x1="290.12" y1="293.56" x2="290.12" y2="319.10" stroke="#f04040" stroke-width="0.8" stroke-linecap="butt"/>
<line x1="288.23" y1="293.56" x2="292.02" y2="293.56" stroke="#f04040" stroke-width="0.9" stroke-linecap="butt"/>
<line x1="288.23" y1="319.10" x2="292.02" y2="319.10" stroke="#f04040" stroke-width="0.9" stroke-linecap="butt"/>
<line x1="327.95" y1="293.22" x2="327.95" y2="300.12" stroke="#f04040" stroke-width="0.8" stroke-linecap="butt"/>
<line x1="326.05" y1="293.22" x2="329.85" y2="293.22" stroke="#f04040" stroke-width="0.9" stroke-linecap="butt"/>
<line x1="326.05" y1="300.12" x2="329.85" y2="300.12" stroke="#f04040" stroke-width="0.9" stroke-linecap="butt"/>
<line x1="365.78" y1="301.50" x2="365.78" y2="311.16" stroke="#f04040" stroke-width="0.8" stroke-linecap="butt"/>
<line x1="363.88" y1="301.50" x2="367.68" y2="301.50" stroke="#f04040" stroke-width="0.9" stroke-linecap="butt"/>
<line x1="363.88" y1="311.16" x2="367.68" y2="311.16" stroke="#f04040" stroke-width="0.9" stroke-linecap="butt"/>
<line x1="403.60" y1="309.78" x2="403.60" y2="327.72" stroke="#f04040" stroke-width="0.8" stroke-linecap="butt"/>
<line x1="401.70" y1="309.78" x2="405.50" y2="309.78" stroke="#f04040" stroke-width="0.9" stroke-linecap="butt"/>
<line x1="401.70" y1="327.72" x2="405.50" y2="327.72" stroke="#f04040" stroke-width="0.9" stroke-linecap="butt"/>
<path d="M252.30 368.22 L254.45 363.12 L250.15 363.12Z" fill="#f00000"/>
<path d="M290.12 309.23 L292.27 304.13 L287.98 304.13Z" fill="#f00000"/>
<path d="M327.95 299.57 L330.10 294.47 L325.80 294.47Z" fill="#f00000"/>
<path d="M365.78 309.23 L367.93 304.13 L363.63 304.13Z" fill="#f00000"/>
<path d="M403.60 321.65 L405.75 316.55 L401.45 316.55Z" fill="#f00000"/>
<path d="M252.30 351.87 L290.12 292.53 L327.95 290.46 L365.78 290.46 L403.60 294.94" fill="none" stroke="#000" stroke-width="0.9"/>
<line x1="252.30" y1="343.94" x2="252.30" y2="359.81" stroke="#555" stroke-width="0.8" stroke-linecap="butt"/>
<line x1="250.40" y1="343.94" x2="254.20" y2="343.94" stroke="#555" stroke-width="0.9" stroke-linecap="butt"/>
<line x1="250.40" y1="359.81" x2="254.20" y2="359.81" stroke="#555" stroke-width="0.9" stroke-linecap="butt"/>
<line x1="290.12" y1="288.39" x2="290.12" y2="296.67" stroke="#555" stroke-width="0.8" stroke-linecap="butt"/>
<line x1="288.23" y1="288.39" x2="292.02" y2="288.39" stroke="#555" stroke-width="0.9" stroke-linecap="butt"/>
<line x1="288.23" y1="296.67" x2="292.02" y2="296.67" stroke="#555" stroke-width="0.9" stroke-linecap="butt"/>
<line x1="327.95" y1="289.08" x2="327.95" y2="291.84" stroke="#555" stroke-width="0.8" stroke-linecap="butt"/>
<line x1="326.05" y1="289.08" x2="329.85" y2="289.08" stroke="#555" stroke-width="0.9" stroke-linecap="butt"/>
<line x1="326.05" y1="291.84" x2="329.85" y2="291.84" stroke="#555" stroke-width="0.9" stroke-linecap="butt"/>
<line x1="365.78" y1="289.08" x2="365.78" y2="291.84" stroke="#555" stroke-width="0.8" stroke-linecap="butt"/>
<line x1="363.88" y1="289.08" x2="367.68" y2="289.08" stroke="#555" stroke-width="0.9" stroke-linecap="butt"/>
<line x1="363.88" y1="291.84" x2="367.68" y2="291.84" stroke="#555" stroke-width="0.9" stroke-linecap="butt"/>
<line x1="403.60" y1="286.67" x2="403.60" y2="303.23" stroke="#555" stroke-width="0.8" stroke-linecap="butt"/>
<line x1="401.70" y1="286.67" x2="405.50" y2="286.67" stroke="#555" stroke-width="0.9" stroke-linecap="butt"/>
<line x1="401.70" y1="303.23" x2="405.50" y2="303.23" stroke="#555" stroke-width="0.9" stroke-linecap="butt"/>
<path d="M252.30 348.97 L254.40 353.97 L250.20 353.97Z" fill="#000"/>
<path d="M290.12 289.63 L292.23 294.63 L288.02 294.63Z" fill="#000"/>
<path d="M327.95 287.56 L330.05 292.56 L325.85 292.56Z" fill="#000"/>
<path d="M365.78 287.56 L367.88 292.56 L363.68 292.56Z" fill="#000"/>
<path d="M403.60 292.05 L405.70 297.05 L401.50 297.05Z" fill="#000"/>
<line x1="414.50" y1="247.50" x2="425.00" y2="247.50" stroke="#000" stroke-width="1.2" stroke-linecap="butt"/>
<ellipse cx="419.70" cy="247.50" rx="2.20" ry="2.94" fill="#000"/>
<text transform="translate(430.90 251.50) scale(0.72 1)" font-size="11.6" text-anchor="start" font-weight="normal" fill="#222" >ND+Veh</text>
<line x1="414.50" y1="268.60" x2="425.00" y2="268.60" stroke="#0000ff" stroke-width="1.2" stroke-linecap="butt"/>
<rect x="417.55" y="265.56" width="4.30" height="6.09" fill="#0000ff"/>
<text transform="translate(430.90 272.60) scale(0.72 1)" font-size="11.6" text-anchor="start" font-weight="normal" fill="#222" >ND+SPX</text>
<line x1="414.50" y1="290.00" x2="425.00" y2="290.00" stroke="#000" stroke-width="1.2" stroke-linecap="butt"/>
<path d="M419.70 286.95 L422.64 292.20 L416.76 292.20Z" fill="#000"/>
<text transform="translate(431.70 294.00) scale(0.72 1)" font-size="11.6" text-anchor="start" font-weight="normal" fill="#222" >HFD+Veh</text>
<line x1="414.50" y1="310.50" x2="425.00" y2="310.50" stroke="#f00000" stroke-width="1.2" stroke-linecap="butt"/>
<path d="M419.70 313.55 L422.71 308.19 L416.69 308.19Z" fill="#f00000"/>
<text transform="translate(431.70 314.50) scale(0.72 1)" font-size="11.6" text-anchor="start" font-weight="normal" fill="#222" >HFD+SPX</text>
</svg>
</body></html>
